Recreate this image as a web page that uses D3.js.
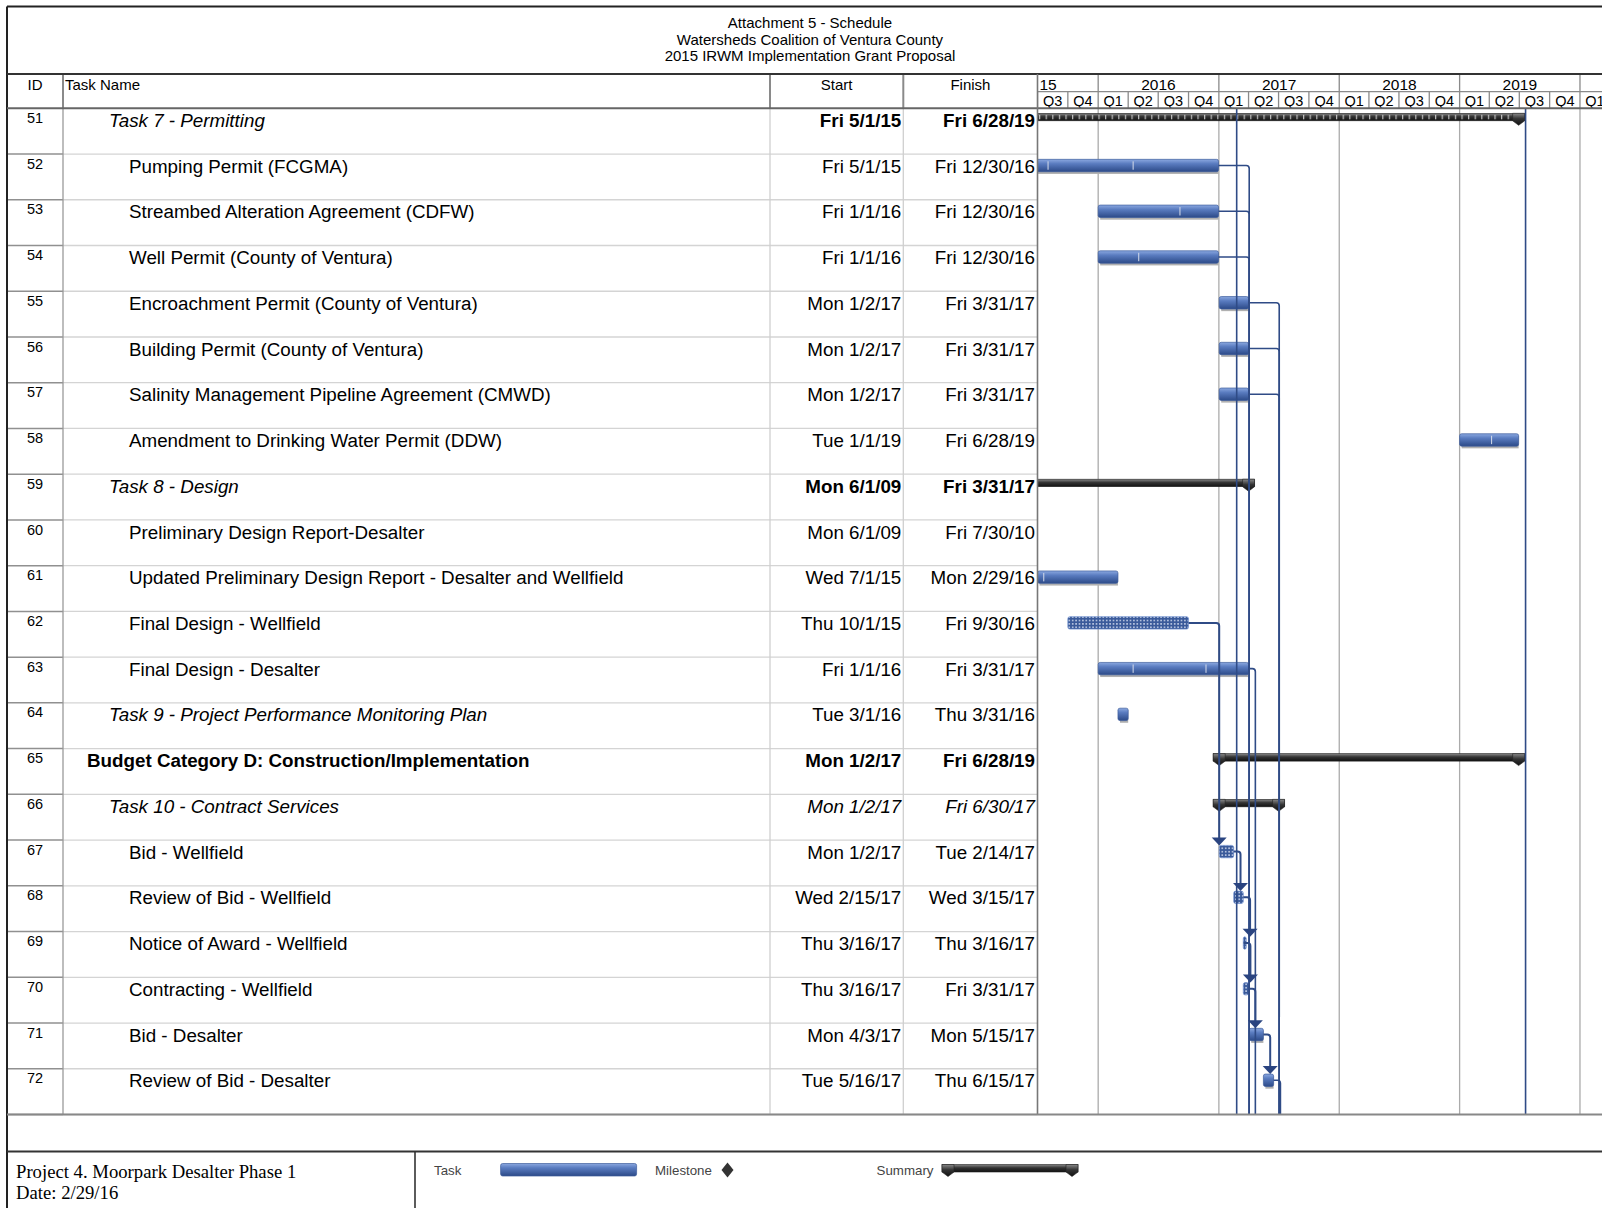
<!DOCTYPE html>
<html>
<head>
<meta charset="utf-8">
<title>Attachment 5 - Schedule</title>
<script src="https://cdn.jsdelivr.net/npm/d3@7"></script>
<style>
body { margin: 0; background: #fff; }
svg { display: block; font-family: "Liberation Sans", Arial, sans-serif; }
</style>
</head>
<body>
<div id="chart-area"></div>
<script>
/*
*    schedule gantt - Moorpark Desalter Phase 1
*/

// rows of the schedule
var taskIds = [51, 52, 53, 54, 55, 56, 57, 58, 59, 60, 61, 62, 63, 64, 65, 66, 67, 68, 69, 70, 71, 72];
var taskNames = [
"Task 7 - Permitting",
"Pumping Permit (FCGMA)",
"Streambed Alteration Agreement (CDFW)",
"Well Permit (County of Ventura)",
"Encroachment Permit (County of Ventura)",
"Building Permit (County of Ventura)",
"Salinity Management Pipeline Agreement (CMWD)",
"Amendment to Drinking Water Permit (DDW)",
"Task 8 - Design",
"Preliminary Design Report-Desalter",
"Updated Preliminary Design Report - Desalter and Wellfield",
"Final Design - Wellfield",
"Final Design - Desalter",
"Task 9 - Project Performance Monitoring Plan",
"Budget Category D: Construction/Implementation",
"Task 10 - Contract Services",
"Bid - Wellfield",
"Review of Bid - Wellfield",
"Notice of Award - Wellfield",
"Contracting - Wellfield",
"Bid - Desalter",
"Review of Bid - Desalter"
];
var taskStarts = ["2015-05-01", "2015-05-01", "2016-01-01", "2016-01-01", "2017-01-02", "2017-01-02", "2017-01-02", "2019-01-01",
"2009-06-01", "2009-06-01", "2015-07-01", "2015-10-01", "2016-01-01", "2016-03-01", "2017-01-02", "2017-01-02",
"2017-01-02", "2017-02-15", "2017-03-16", "2017-03-16", "2017-04-03", "2017-05-16"];
var taskFinishes = ["2019-06-28", "2016-12-30", "2016-12-30", "2016-12-30", "2017-03-31", "2017-03-31", "2017-03-31", "2019-06-28",
"2017-03-31", "2010-07-30", "2016-02-29", "2016-09-30", "2017-03-31", "2016-03-31", "2019-06-28", "2017-06-30",
"2017-02-14", "2017-03-15", "2017-03-16", "2017-03-31", "2017-05-15", "2017-06-15"];
var taskKinds = ["rollup", "task", "task", "task", "task", "task", "task", "task",
"summary", "task", "task", "hatched", "task", "task", "summary", "summary",
"hatched", "hatched", "hatched", "hatched", "task", "task"];
var taskLevels = [1, 2, 2, 2, 2, 2, 2, 2, 1, 2, 2, 2, 2, 1, 0, 1, 2, 2, 2, 2, 2, 2];

// small white marks seen inside some task bars
var barTicks = {
52: ["2015-08-02", "2016-04-16"],
53: ["2016-09-05"],
54: ["2016-05-03"],
58: ["2019-04-08"],
61: ["2015-07-20"],
63: ["2016-04-16", "2016-11-23"]
};

// finish-to-start links (null = successor on the next page)
var linkFrom = [52, 53, 54, 55, 56, 57, 62, 63, 67, 68, 69, 70, 71, 72];
var linkTo = [null, null, null, null, null, null, 67, null, 68, 69, 70, 71, 72, null];
var offPageStart = ["2017-04-03", "2017-04-03", "2017-04-03", "2017-07-03", "2017-07-03", "2017-07-03", null,
"2017-04-03", null, null, null, null, null, "2017-07-03"];
// links passing through this page from rows above
var throughDates = ["2017-02-24", "2019-07-20"];

var titleLines = ["Attachment 5 - Schedule", "Watersheds Coalition of Ventura County", "2015 IRWM Implementation Grant Proposal"];
var columnHeaders = ["ID", "Task Name", "Start", "Finish"];
var yearLabels = ["15", "2016", "2017", "2018", "2019"];
var quarterLabels = ["Q1", "Q2", "Q3", "Q4"];
var footerLines = ["Project 4. Moorpark Desalter Phase 1", "Date: 2/29/16"];
var legendLabels = ["Task", "Milestone", "Summary"];

// layout
var width = 1602;
var height = 1208;
var frameX = 7, frameY = 6.5;
var colId = 63, colName = 770, colStart = 903.3, colFinish = 1037.5;
var titleBottom = 74, tierMid = 91.7, headBottom = 108.3, bodyBottom = 1114.5;
var footTop = 1151.5, footDiv = 415;
var yearPx = 120.5;
var linkColor = "#2f4b86";

var parse = d3.timeParse("%Y-%m-%d");
var fmt = d3.timeFormat("%a %-m/%-d/%y");

var tasks = taskIds.map((id, i) => ({
    id: id,
    name: taskNames[i],
    start: parse(taskStarts[i]),
    finish: parse(taskFinishes[i]),
    end: d3.timeDay.offset(parse(taskFinishes[i]), 1),
    kind: taskKinds[i],
    level: taskLevels[i]
}));
var byId = {};
tasks.forEach((t) => { byId[t.id] = t; });

var x = d3.scaleTime()
.domain([new Date(2015, 6, 1), new Date(2020, 6, 1)])
.range([colFinish, colFinish + 5 * yearPx]);
var y = d3.scaleBand().domain(taskIds).range([headBottom, bodyBottom]);
var rowH = y.bandwidth();

var svg = d3.select("#chart-area")
.append("svg")
.attr("width", width)
.attr("height", height);

var defs = svg.append("defs");

var tg = defs.append("linearGradient").attr("id", "taskGrad").attr("x1", 0).attr("y1", 0).attr("x2", 0).attr("y2", 1);
tg.append("stop").attr("offset", "0%").attr("stop-color", "#8ba8e0");
tg.append("stop").attr("offset", "35%").attr("stop-color", "#5a7cc0");
tg.append("stop").attr("offset", "100%").attr("stop-color", "#2c4a88");

var sg = defs.append("linearGradient").attr("id", "sumGrad").attr("x1", 0).attr("y1", 0).attr("x2", 0).attr("y2", 1);
sg.append("stop").attr("offset", "0%").attr("stop-color", "#8a8a8a");
sg.append("stop").attr("offset", "45%").attr("stop-color", "#333");
sg.append("stop").attr("offset", "100%").attr("stop-color", "#111");

var hp = defs.append("pattern").attr("id", "hatch").attr("patternUnits", "userSpaceOnUse")
.attr("width", 3.4).attr("height", 3.4);
hp.append("rect").attr("width", 3.4).attr("height", 3.4).attr("fill", "#3a5a9a");
hp.append("rect").attr("x", 1).attr("y", 1).attr("width", 1.4).attr("height", 1.4).attr("fill", "#e8eefa");

var rp = defs.append("pattern").attr("id", "rollTicks").attr("patternUnits", "userSpaceOnUse")
.attr("width", 6.6).attr("height", 40);
rp.append("rect").attr("x", 3).attr("y", 0).attr("width", 1).attr("height", 40).attr("fill", "#d8d8d8");

defs.append("clipPath").attr("id", "chartClip")
.append("rect")
.attr("x", colFinish).attr("y", headBottom)
.attr("width", width - colFinish).attr("height", bodyBottom - headBottom);

defs.append("clipPath").attr("id", "headClip")
.append("rect")
.attr("x", colFinish).attr("y", titleBottom)
.attr("width", width - colFinish).attr("height", headBottom - titleBottom);

// ---- title block
svg.selectAll(".title").data(titleLines).enter()
.append("text")
.attr("class", "title")
.attr("x", 810)
.attr("y", (d, i) => 28 + i * 16.6)
.attr("text-anchor", "middle")
.attr("font-size", "15px")
.text((d) => d);

// ---- table body lines
var grid = svg.append("g");
taskIds.forEach((id) => {
    grid.append("line")
    .attr("x1", colId).attr("x2", colFinish)
    .attr("y1", y(id) + rowH).attr("y2", y(id) + rowH)
    .attr("stroke", "#d4d4d4").attr("stroke-width", 1.3);
    grid.append("line")
    .attr("x1", frameX).attr("x2", colId)
    .attr("y1", y(id) + rowH).attr("y2", y(id) + rowH)
    .attr("stroke", "#909090").attr("stroke-width", 1.5);
});
[[colId, "#9a9a9a"], [colName, "#cfcfcf"], [colStart, "#cfcfcf"]].forEach((c) => {
    grid.append("line")
    .attr("x1", c[0]).attr("x2", c[0])
    .attr("y1", headBottom).attr("y2", bodyBottom)
    .attr("stroke", c[1]).attr("stroke-width", 1.3);
});

// year grid lines in the chart
var years = d3.timeYear.range(new Date(2016, 0, 1), x.domain()[1]);
var chart = svg.append("g").attr("clip-path", "url(#chartClip)");
chart.selectAll(".ygrid").data(years).enter()
.append("line")
.attr("class", "ygrid")
.attr("x1", (d) => x(d)).attr("x2", (d) => x(d))
.attr("y1", headBottom).attr("y2", bodyBottom)
.attr("stroke", "#ababab").attr("stroke-width", 1.3);

// ---- header
var head = svg.append("g");
head.append("text").attr("x", (frameX + colId) / 2).attr("y", 89.5).attr("text-anchor", "middle")
.attr("font-size", "15px").text(columnHeaders[0]);
head.append("text").attr("x", colId + 2).attr("y", 89.5)
.attr("font-size", "15px").text(columnHeaders[1]);
head.append("text").attr("x", (colName + colStart) / 2).attr("y", 89.5).attr("text-anchor", "middle")
.attr("font-size", "15px").text(columnHeaders[2]);
head.append("text").attr("x", (colStart + colFinish) / 2).attr("y", 89.5).attr("text-anchor", "middle")
.attr("font-size", "15px").text(columnHeaders[3]);
[colId, colName, colStart].forEach((cx) => {
    head.append("line").attr("x1", cx).attr("x2", cx).attr("y1", titleBottom).attr("y2", headBottom)
    .attr("stroke", "#8a8a8a").attr("stroke-width", 2);
});

var tl = svg.append("g").attr("clip-path", "url(#headClip)");
var yearStarts = d3.timeYear.range(new Date(2015, 0, 1), x.domain()[1]).slice(0, yearLabels.length);
tl.selectAll(".ylab").data(yearStarts).enter()
.append("text")
.attr("class", "ylab")
.attr("x", (d) => x(d) < colFinish ? colFinish + 2 : x(d) + yearPx / 2)
.attr("y", 89.5)
.attr("text-anchor", (d) => x(d) < colFinish ? "start" : "middle")
.attr("font-size", "15.5px")
.text((d, i) => yearLabels[i]);
tl.selectAll(".ysep").data(years).enter()
.append("line")
.attr("class", "ysep")
.attr("x1", (d) => x(d)).attr("x2", (d) => x(d))
.attr("y1", titleBottom).attr("y2", tierMid)
.attr("stroke", "#8a8a8a").attr("stroke-width", 1.3);

// quarter cells that start on the page
var quarters = d3.timeMonth.every(3).range(x.domain()[0], x.domain()[1]).filter((d) => x(d) < width);
tl.selectAll(".qlab").data(quarters).enter()
.append("text")
.attr("class", "qlab")
.attr("x", (d) => (x(d) + x(d3.timeMonth.offset(d, 3))) / 2)
.attr("y", 105.6)
.attr("text-anchor", "middle")
.attr("font-size", "14.5px")
.text((d) => quarterLabels[Math.floor(d.getMonth() / 3)]);
tl.selectAll(".qsep").data(quarters).enter()
.append("line")
.attr("class", "qsep")
.attr("x1", (d) => x(d)).attr("x2", (d) => x(d))
.attr("y1", tierMid).attr("y2", headBottom)
.attr("stroke", "#8a8a8a").attr("stroke-width", 1.3);
tl.append("line").attr("x1", colFinish).attr("x2", width).attr("y1", tierMid).attr("y2", tierMid)
.attr("stroke", "#8a8a8a").attr("stroke-width", 1.3);

// ---- row text
var indentX = [87, 109, 129];
var italicDateIds = [66];
var rows = svg.append("g").selectAll(".row").data(tasks).enter()
.append("g")
.attr("class", "row")
.attr("transform", (d) => "translate(0," + y(d.id) + ")");

rows.append("text")
.attr("x", (frameX + colId) / 2)
.attr("y", 14.6)
.attr("text-anchor", "middle")
.attr("font-size", "14.5px")
.text((d) => d.id);

rows.append("text")
.attr("x", (d) => indentX[d.level])
.attr("y", 18.6)
.attr("font-size", "18.8px")
.attr("font-weight", (d) => d.level === 0 ? "bold" : "normal")
.attr("font-style", (d) => d.level === 1 ? "italic" : "normal")
.text((d) => d.name);

var dateWeight = (d) => (d.kind === "summary" || d.kind === "rollup") && italicDateIds.indexOf(d.id) < 0 ? "bold" : "normal";
var dateStyle = (d) => italicDateIds.indexOf(d.id) >= 0 ? "italic" : "normal";

rows.append("text")
.attr("x", colStart - 2)
.attr("y", 18.6)
.attr("text-anchor", "end")
.attr("font-size", "18.8px")
.attr("font-weight", dateWeight)
.attr("font-style", dateStyle)
.text((d) => fmt(d.start));

rows.append("text")
.attr("x", colFinish - 2.5)
.attr("y", 18.6)
.attr("text-anchor", "end")
.attr("font-size", "18.8px")
.attr("font-weight", dateWeight)
.attr("font-style", dateStyle)
.text((d) => fmt(d.finish));

// ---- bars
var barTop = 5.3, barH = 12.4, barMid = 11.5;

function capPath(cx, top) {
    return "M" + (cx - 6) + "," + top + "H" + (cx + 6) + "V" + (top + 7.5) +
    "L" + cx + "," + (top + 12) + "L" + (cx - 6) + "," + (top + 7.5) + "Z";
}

var plain = tasks.filter((d) => d.kind === "task" || d.kind === "hatched");
chart.selectAll(".shadow").data(plain.filter((d) => d.kind === "task")).enter()
.append("rect")
.attr("class", "shadow")
.attr("x", (d) => x(d.start) + 2)
.attr("y", (d) => y(d.id) + barTop + 2.2)
.attr("width", (d) => Math.max(x(d.end) - x(d.start) - 2, 1))
.attr("height", barH)
.attr("fill", "#b0b0b0");

chart.selectAll(".bar").data(plain).enter()
.append("rect")
.attr("class", "bar")
.attr("x", (d) => x(d.start))
.attr("y", (d) => y(d.id) + barTop)
.attr("width", (d) => Math.max(x(d.end) - x(d.start), 3))
.attr("height", barH)
.attr("rx", 2)
.attr("fill", (d) => d.kind === "hatched" ? "url(#hatch)" : "url(#taskGrad)")
.attr("stroke", (d) => d.kind === "hatched" ? "#6f8fd0" : "#3d5d9c")
.attr("stroke-width", 0.7);

Object.keys(barTicks).forEach((id) => {
    barTicks[id].forEach((ds) => {
        chart.append("line")
        .attr("x1", x(parse(ds))).attr("x2", x(parse(ds)))
        .attr("y1", y(+id) + barTop + 2).attr("y2", y(+id) + barTop + barH - 2)
        .attr("stroke", "#d6dcea").attr("stroke-width", 1);
    });
});

var sums = tasks.filter((d) => d.kind === "summary" || d.kind === "rollup");
sums.forEach((d) => {
    var top = y(d.id) + 5;
    var x0 = Math.max(x(d.start), colFinish - 10) - 6;
    var x1 = x(d.end) + 6;
    chart.append("rect")
    .attr("x", x0).attr("y", top)
    .attr("width", x1 - x0).attr("height", 7.5)
    .attr("fill", "url(#sumGrad)")
    .attr("stroke", "#222").attr("stroke-width", 0.6);
    if (d.kind === "rollup") {
        chart.append("rect")
        .attr("x", x0).attr("y", top + 1.5)
        .attr("width", x1 - x0 - 12).attr("height", 4.5)
        .attr("fill", "url(#rollTicks)");
    }
    [d.start, d.end].forEach((dt) => {
        if (dt < x.domain()[0]) return;
        chart.append("path")
        .attr("d", capPath(x(dt), top))
        .attr("fill", "url(#sumGrad)")
        .attr("stroke", "#222").attr("stroke-width", 0.6);
    });
});

// ---- links
var links = svg.append("g").attr("clip-path", "url(#chartClip)");
throughDates.forEach((ds) => {
    links.append("line")
    .attr("x1", x(parse(ds))).attr("x2", x(parse(ds)))
    .attr("y1", headBottom).attr("y2", bodyBottom)
    .attr("stroke", linkColor).attr("stroke-width", 1.6);
});

linkFrom.forEach((from, i) => {
    var p = byId[from];
    var px = x(p.end);
    var py = y(from) + barMid;
    var s = linkTo[i] !== null ? byId[linkTo[i]] : null;
    var sx = s ? x(s.start) : x(parse(offPageStart[i]));
    var dx = Math.max(px + 6.8, sx);
    var ty = s ? y(s.id) + barTop : bodyBottom;
    links.append("path")
    .attr("d", "M" + px + "," + py + "H" + (dx - 3) + "Q" + dx + "," + py + " " + dx + "," + (py + 3) + "V" + (s ? ty - 6 : ty))
    .attr("fill", "none")
    .attr("stroke", linkColor)
    .attr("stroke-width", s ? 2 : 1.6);
    if (s) {
        links.append("path")
        .attr("d", "M" + (dx - 7.5) + "," + (ty - 8) + "H" + (dx + 7.5) + "L" + dx + "," + ty + "Z")
        .attr("fill", "#2a4480");
    }
});

// ---- frame
var frame = svg.append("g");
frame.append("line").attr("x1", frameX).attr("x2", width).attr("y1", frameY).attr("y2", frameY)
.attr("stroke", "#222").attr("stroke-width", 2);
frame.append("line").attr("x1", frameX).attr("x2", frameX).attr("y1", frameY).attr("y2", height)
.attr("stroke", "#222").attr("stroke-width", 2);
frame.append("line").attr("x1", frameX).attr("x2", width).attr("y1", titleBottom).attr("y2", titleBottom)
.attr("stroke", "#333").attr("stroke-width", 2);
frame.append("line").attr("x1", frameX).attr("x2", width).attr("y1", headBottom).attr("y2", headBottom)
.attr("stroke", "#666").attr("stroke-width", 2);
frame.append("line").attr("x1", colFinish).attr("x2", colFinish).attr("y1", titleBottom).attr("y2", bodyBottom)
.attr("stroke", "#777").attr("stroke-width", 1.6);
frame.append("line").attr("x1", frameX).attr("x2", width).attr("y1", bodyBottom).attr("y2", bodyBottom)
.attr("stroke", "#888").attr("stroke-width", 2);
frame.append("line").attr("x1", frameX).attr("x2", width).attr("y1", footTop).attr("y2", footTop)
.attr("stroke", "#333").attr("stroke-width", 2);
frame.append("line").attr("x1", footDiv).attr("x2", footDiv).attr("y1", footTop).attr("y2", height)
.attr("stroke", "#333").attr("stroke-width", 1.6);

// ---- footer
svg.selectAll(".foot").data(footerLines).enter()
.append("text")
.attr("class", "foot")
.attr("x", 16)
.attr("y", (d, i) => 1178 + i * 20.5)
.attr("font-family", "'Liberation Serif', 'Times New Roman', serif")
.attr("font-size", "18.7px")
.text((d) => d);

var legend = svg.append("g").attr("font-size", "13.3px").attr("fill", "#444");
legend.append("text").attr("x", 434).attr("y", 1174.7).text(legendLabels[0]);
legend.append("rect").attr("x", 500.6).attr("y", 1163.5).attr("width", 136).attr("height", 12.5)
.attr("rx", 2).attr("fill", "url(#taskGrad)").attr("stroke", "#3d5d9c").attr("stroke-width", 0.7);
legend.append("text").attr("x", 655).attr("y", 1174.7).text(legendLabels[1]);
legend.append("path").attr("d", "M727.5,1162.5L733.5,1170L727.5,1177.5L721.5,1170Z").attr("fill", "#333");
legend.append("text").attr("x", 876.6).attr("y", 1174.7).text(legendLabels[2]);
legend.append("rect").attr("x", 942).attr("y", 1164.5).attr("width", 136).attr("height", 7.5)
.attr("fill", "url(#sumGrad)").attr("stroke", "#222").attr("stroke-width", 0.6);
[948, 1072].forEach((cx) => {
    legend.append("path").attr("d", capPath(cx, 1164.5))
    .attr("fill", "url(#sumGrad)").attr("stroke", "#222").attr("stroke-width", 0.6);
});
</script>
</body>
</html>
